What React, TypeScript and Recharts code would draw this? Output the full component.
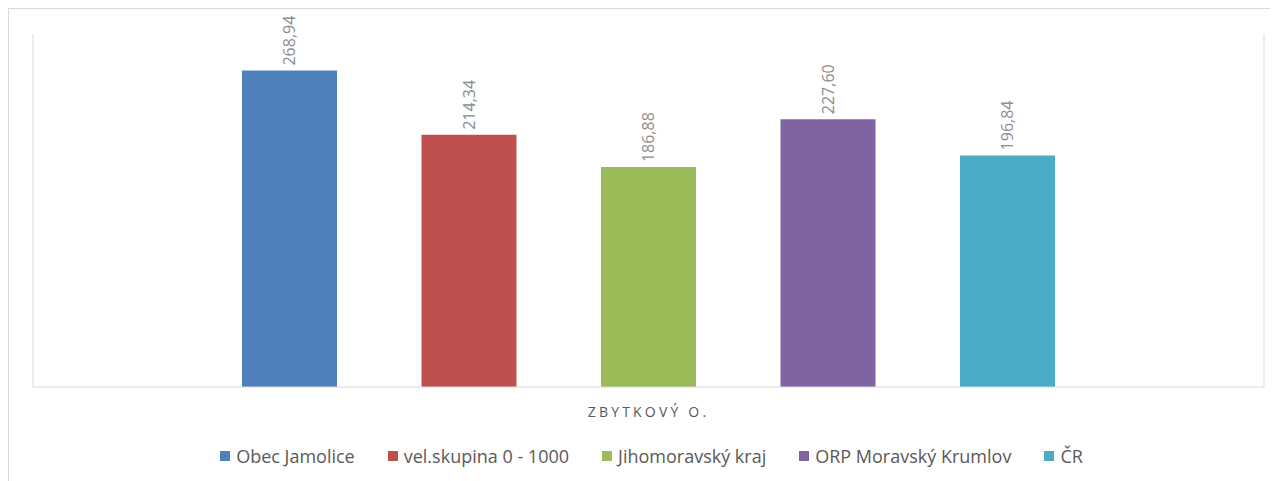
import { BarChart, Bar, XAxis, YAxis, CartesianGrid, Legend, LabelList } from "recharts";

const categories = ["ZBYTKOVÝ O."];
const seriesNames = ["Obec Jamolice", "vel.skupina 0 - 1000", "Jihomoravský kraj", "ORP Moravský Krumlov", "ČR"];
const seriesValues = [268.94, 214.34, 186.88, 227.6, 196.84];
const COLORS = ["#4f81bd", "#c0504d", "#9bbb59", "#8064a2", "#4bacc6"];

const data = categories.map((name) => {
  const row: { [key: string]: string | number } = { name };
  seriesNames.forEach((s, i) => {
    row[s] = seriesValues[i];
  });
  return row;
});

const fmt = (v: number) => v.toFixed(2).replace(".", ",");

const RotatedLabel = (props: any) => {
  const { x, y, width, value } = props;
  const cx = x + width / 2;
  const ty = y - 5;
  return (
    <text
      x={cx}
      y={ty}
      transform={`rotate(-90 ${cx} ${ty})`}
      textAnchor="start"
      dominantBaseline="central"
      fill="#8c8c8c"
      fontSize={16}
    >
      {fmt(Number(value))}
    </text>
  );
};

const CategoryTick = (props: any) => {
  const { x, y, payload } = props;
  return (
    <text x={x} y={y + 16} textAnchor="middle" dominantBaseline="central" fill="#595959" fontSize={14} letterSpacing={3.2}>
      {String(payload.value).toUpperCase()}
    </text>
  );
};

const LegendContent = (props: any) => {
  const items = [...(props.payload || [])].sort(
    (a: any, b: any) => seriesNames.indexOf(a.value) - seriesNames.indexOf(b.value)
  );
  return (
    <div style={{ display: "flex", justifyContent: "center", alignItems: "center", gap: 33 }}>
      {items.map((it: any) => (
        <div key={it.value} style={{ display: "flex", alignItems: "center" }}>
          <span style={{ width: 10, height: 10, background: it.color, marginRight: 6, display: "inline-block" }} />
          <span style={{ color: "#595959", fontSize: 18, lineHeight: "20px" }}>{it.value}</span>
        </div>
      ))}
    </div>
  );
};

export default function App() {
  return (
    <div
      style={{
        width: 1269,
        height: 472,
        borderTop: "1px solid #d9d9d9",
        borderLeft: "1px solid #d9d9d9",
        fontFamily: "'Open Sans', sans-serif",
      }}
    >
      <BarChart
        width={1269}
        height={472}
        data={data}
        margin={{ top: 25, right: 14, left: 24, bottom: 64 }}
        barSize={95}
        barGap={84.5}
        style={{ fontFamily: "'Open Sans', sans-serif" }}
      >
        <CartesianGrid
          horizontal={false}
          stroke="#d9d9d9"
          verticalCoordinatesGenerator={({ offset }: any) => [offset.left, offset.left + offset.width]}
        />
        <XAxis
          dataKey="name"
          height={30}
          axisLine={{ stroke: "#d9d9d9" }}
          tickLine={false}
          tick={<CategoryTick />}
        />
        <YAxis hide domain={[0, 300]} />
        <Legend
          verticalAlign="middle"
          wrapperStyle={{ top: 437, left: 8, width: 1269 }}
          content={<LegendContent />}
        />
        {seriesNames.map((s, i) => (
          <Bar key={s} dataKey={s} fill={COLORS[i]} isAnimationActive={false}>
            <LabelList dataKey={s} content={<RotatedLabel />} />
          </Bar>
        ))}
      </BarChart>
    </div>
  );
}
